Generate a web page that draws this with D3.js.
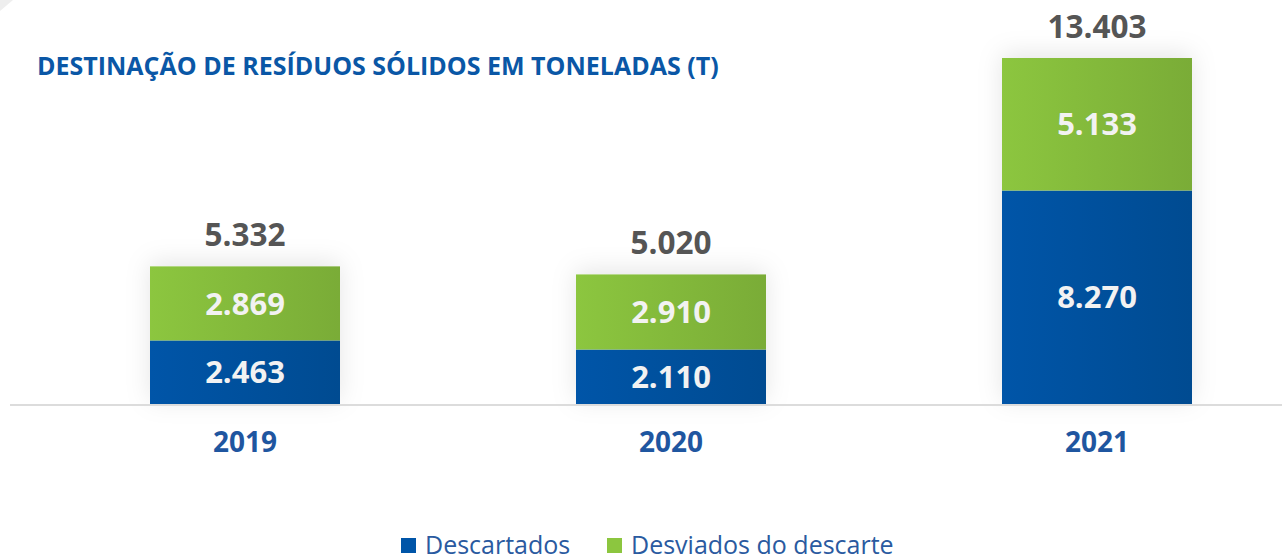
<!DOCTYPE html>
<html>
<head>
<meta charset="utf-8">
<script src="https://cdn.jsdelivr.net/npm/d3@7"></script>
<style>
  html, body { margin: 0; padding: 0; background: #ffffff; }
  svg { display: block; font-family: "Open Sans", "Noto Sans", sans-serif; }
</style>
</head>
<body>
<svg id="chart" width="1282" height="558"></svg>
<script>
const title = "DESTINAÇÃO DE RESÍDUOS SÓLIDOS EM TONELADAS (T)";
const years = ["2019", "2020", "2021"];
const descartados = [2463, 2110, 8270];
const desviados = [2869, 2910, 5133];
const totals = [5332, 5020, 13403];
const totalLabels = ["5.332", "5.020", "13.403"];
const descartadosLabels = ["2.463", "2.110", "8.270"];
const desviadosLabels = ["2.869", "2.910", "5.133"];
const seriesNames = ["Descartados", "Desviados do descarte"];

const svg = d3.select("#chart");
const W = 1282, H = 558;
const baseY = 404;

const defs = svg.append("defs");
const gBlue = defs.append("linearGradient").attr("id", "gBlue").attr("x1", "0%").attr("x2", "100%");
gBlue.append("stop").attr("offset", "0%").attr("stop-color", "#0055a8");
gBlue.append("stop").attr("offset", "100%").attr("stop-color", "#004b91");
const gGreen = defs.append("linearGradient").attr("id", "gGreen").attr("x1", "0%").attr("x2", "100%");
gGreen.append("stop").attr("offset", "0%").attr("stop-color", "#8cc63f");
gGreen.append("stop").attr("offset", "100%").attr("stop-color", "#7aac37");
const sh = defs.append("filter").attr("id", "shadow").attr("x", "-30%").attr("y", "-30%").attr("width", "160%").attr("height", "160%");
sh.append("feDropShadow").attr("dx", 0).attr("dy", -4).attr("stdDeviation", 12).attr("flood-color", "#000").attr("flood-opacity", 0.10);

// top-left decorative corner
svg.append("path").attr("d", "M0,0 L13,0 L0,11 Z").attr("fill", "#eeeeee");

const x = d3.scaleBand().domain(years).range([32, 1310]).paddingInner(0.554).paddingOuter(0.277);
const y = d3.scaleLinear().domain([0, 13403]).range([baseY, 58]);

const stackData = years.map((yr, i) => ({ year: yr, Descartados: descartados[i], Desviados: desviados[i] }));
const stack = d3.stack().keys(["Descartados", "Desviados"])(stackData);

// shadows behind bars
svg.append("g").selectAll("rect").data(stackData).join("rect")
  .attr("x", d => x(d.year)).attr("width", x.bandwidth())
  .attr("y", (d, i) => y(totals[i])).attr("height", (d, i) => baseY - y(totals[i]))
  .attr("fill", "#ffffff").attr("filter", "url(#shadow)");

// baseline
svg.append("line").attr("x1", 10).attr("x2", W).attr("y1", baseY + 1).attr("y2", baseY + 1)
  .attr("stroke", "#dcdcdc").attr("stroke-width", 2);

const fills = ["url(#gBlue)", "url(#gGreen)"];
const labelSets = [descartadosLabels, desviadosLabels];
stack.forEach((layer, li) => {
  const g = svg.append("g");
  g.selectAll("rect").data(layer).join("rect")
    .attr("x", d => x(d.data.year)).attr("width", x.bandwidth())
    .attr("y", d => y(d[1])).attr("height", d => y(d[0]) - y(d[1]))
    .attr("fill", fills[li]);
  g.selectAll("text").data(layer).join("text")
    .attr("x", d => x(d.data.year) + x.bandwidth() / 2)
    .attr("y", d => (y(d[0]) + y(d[1])) / 2)
    .attr("dy", "0.36em")
    .attr("text-anchor", "middle")
    .attr("font-size", 31).attr("font-weight", 700).attr("fill", "#f2f2f2")
    .text((d, i) => labelSets[li][i]);
});

// totals
svg.append("g").selectAll("text").data(years).join("text")
  .attr("x", d => x(d) + x.bandwidth() / 2)
  .attr("y", (d, i) => y(totals[i]) - 20)
  .attr("text-anchor", "middle")
  .attr("font-size", 31.5).attr("font-weight", 700).attr("fill", "#555555")
  .text((d, i) => totalLabels[i]);

// x axis labels
svg.append("g").selectAll("text").data(years).join("text")
  .attr("x", d => x(d) + x.bandwidth() / 2)
  .attr("y", 452)
  .attr("text-anchor", "middle")
  .attr("font-size", 28).attr("font-weight", 700).attr("fill", "#1f56a0")
  .text(d => d);

// title
svg.append("text").attr("x", 37).attr("y", 75)
  .attr("font-size", 25).attr("font-weight", 700).attr("fill", "#0a57a6")
  .text(title);

// legend
const legendX = [401, 607];
const legendColors = ["#0055a8", "#8cc63f"];
const lg = svg.append("g").selectAll("g").data(seriesNames).join("g")
  .attr("transform", (d, i) => `translate(${legendX[i]},0)`);
lg.append("rect").attr("x", 0).attr("y", 538).attr("width", 15).attr("height", 15)
  .attr("fill", (d, i) => legendColors[i]);
lg.append("text").attr("x", 24).attr("y", 554)
  .attr("font-size", 25).attr("fill", "#2a5aa0")
  .text(d => d);
</script>
</body>
</html>
